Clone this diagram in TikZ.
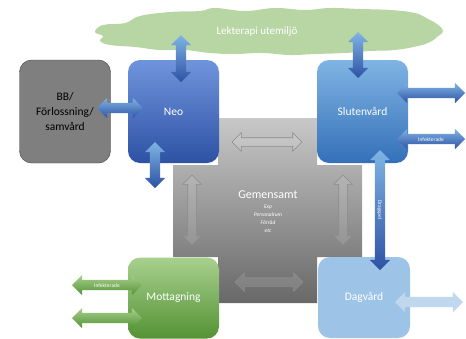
\documentclass[tikz,border=0pt]{standalone}
\usepackage{fontspec}
\setmainfont{Carlito}
\usetikzlibrary{shapes.arrows}

\definecolor{moln}{RGB}{184,214,164}
\definecolor{neotop}{RGB}{112,148,220}
\definecolor{neobot}{RGB}{45,82,164}
\definecolor{sluttop}{RGB}{128,180,228}
\definecolor{slutbot}{RGB}{52,112,184}
\definecolor{motttop}{RGB}{168,208,142}
\definecolor{mottbot}{RGB}{84,146,52}
\definecolor{dagfill}{RGB}{157,195,230}
\definecolor{daglight}{RGB}{192,216,238}
\definecolor{gemtop}{RGB}{200,200,200}
\definecolor{gembot}{RGB}{104,104,104}
\definecolor{bbfill}{RGB}{127,127,127}
\definecolor{bbline}{RGB}{70,70,70}

\begin{document}
\begin{tikzpicture}[x=1pt,y=-1pt,
  box/.style={rounded corners=12pt, minimum width=91pt, minimum height=103pt,
    text=white, font=\fontsize{11.5}{15}\selectfont, align=center},
  dbl/.style={double arrow, double arrow head extend=5pt, minimum width=20pt,
    inner sep=3pt, text height=4pt, text depth=0pt, text=white,
    font=\fontsize{5.5}{6}\selectfont},
  blaapil/.style={dbl, top color=sluttop, bottom color=neobot},
  gronpil/.style={dbl, top color=motttop, bottom color=mottbot},
  gråpil/.style={dbl, minimum width=18pt, inner sep=4pt, text height=0pt,
    fill=white, fill opacity=0.12, draw=black!45, line width=0.6pt}]
  \useasboundingbox (0,0) rectangle (466,338);

  \fill[moln] plot[smooth cycle, tension=0.7] coordinates {
    (95,32) (103,25) (125,23) (140,16) (170,12) (200,11) (215,8) (245,11)
    (275,8) (305,10) (330,8) (360,9) (390,10) (415,13) (428,19) (437,24)
    (443,31) (437,37) (430,42) (418,46) (395,50) (370,51) (345,53) (315,54)
    (290,55) (262,53) (235,54) (210,53) (185,50) (160,50) (135,47) (110,45)
    (100,41) (103,36)};
  \node[text=white, font=\fontsize{11}{13}\selectfont] (utemiljo) at (257,32)
    {Lekterapi utemiljö};

  \shade[top color=gemtop, bottom color=gembot]
    (218,118) -- (317,118) -- (317,165) -- (362,165) -- (362,257) -- (317,257)
    -- (317,303) -- (218,303) -- (218,257) -- (173,257) -- (173,165)
    -- (218,165) -- cycle;
  \foreach \x/\y/\len/\rot/\name in {
    267/142/70/0/g1, 269/282/68/0/g2, 192/210/70/90/g3, 343/210/70/90/g4}
  {
    \node[gråpil, minimum height=\len pt, rotate=\rot] (\name) at (\x,\y) {};
  }
  \node[text=white, font=\fontsize{12}{14}\selectfont] (gem) at (268,195) {Gemensamt};
  \node[text=white, align=center, font=\fontsize{5.5}{8}\selectfont\itshape]
    (gemlista) at (268,219) {Exp\\Personalrum\\Förråd\\etc};

  \node[box, fill=bbfill, draw=bbline, text=black] (bb) at (65,111.5)
    {BB/\\Förlossning/\\samvård};
  \node[box, top color=neotop, bottom color=neobot] (neo) at (173.5,111.5) {Neo};
  \node[box, top color=sluttop, bottom color=slutbot] (slut) at (362.5,111.5) {Slutenvård};
  \node[box, minimum height=81pt, top color=motttop, bottom color=mottbot]
    (mott) at (173.5,298) {Mottagning};
  \node[box, minimum height=81pt, minimum width=92pt, fill=dagfill]
    (dag) at (364,297.5) {Dagvård};

  \node[blaapil, minimum height=47pt, rotate=90] (p1) at (181,58.5) {};
  \node[blaapil, minimum height=46pt, rotate=90] (p2) at (155,165) {};
  \node[blaapil, minimum height=46pt] (p3) at (120,108) {};
  \node[blaapil, minimum height=46pt, rotate=90] (p4) at (358,55) {};
  \node[blaapil, minimum height=68pt] (p5) at (431,93) {};
  \node[blaapil, minimum height=68pt] (p6) at (431,139) {Infekterade};
  \node[blaapil, minimum height=120pt, rotate=-90] (p7) at (380,210) {Dragspel};
  \node[dbl, minimum height=68pt, fill=daglight] (p8) at (429,302) {};
  \node[gronpil, minimum height=70pt] (p9) at (107,285) {Infekterade};
  \node[gronpil, minimum height=70pt] (p10) at (107,318) {};
\end{tikzpicture}
\end{document}
